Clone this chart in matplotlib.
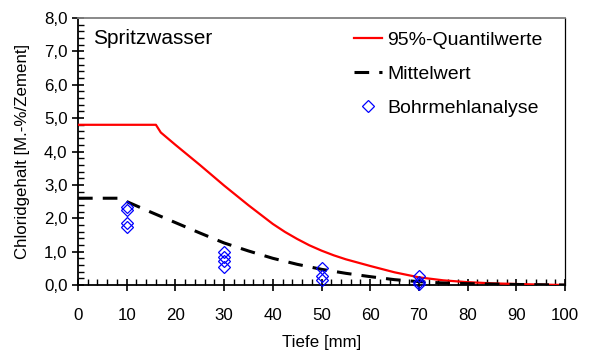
import matplotlib
matplotlib.use("Agg")
import matplotlib.pyplot as plt
from matplotlib.ticker import MultipleLocator, FuncFormatter

plt.rcParams['font.family'] = ['Liberation Sans', 'DejaVu Sans']

# 95%-Quantilwerte curve
q95_x = [0, 16, 17, 20, 25, 30, 35, 40, 42.5, 45, 47.5, 50, 52.5, 55, 57.5, 60, 65, 70, 75, 80, 85, 90, 95, 100]
q95_y = [4.8, 4.8, 4.57, 4.2, 3.6, 2.98, 2.39, 1.83, 1.59, 1.38, 1.19, 1.03, 0.89, 0.77, 0.67, 0.57, 0.38, 0.23, 0.14, 0.085, 0.05, 0.03, 0.012, 0.0]

# Mittelwert curve
mean_x = [0, 9, 10, 15, 20, 25, 30, 35, 40, 45, 50, 55, 60, 65, 70, 75, 80, 90, 100]
mean_y = [2.6, 2.6, 2.5, 2.18, 1.87, 1.56, 1.26, 1.02, 0.8, 0.62, 0.47, 0.35, 0.25, 0.16, 0.1, 0.06, 0.04, 0.015, 0.0]

# Bohrmehlanalyse measurements
bm_x = [10, 10, 10, 10, 30, 30, 30, 30, 50, 50, 50, 70, 70, 70]
bm_y = [2.35, 2.25, 1.85, 1.75, 0.99, 0.85, 0.72, 0.53, 0.50, 0.28, 0.15, 0.26, 0.08, 0.02]

fig = plt.figure(figsize=(5.9, 3.52), dpi=100)
ax = fig.add_axes([78/590, 1 - 285/352, (565-78)/590, (285-18)/352])

ax.plot(q95_x, q95_y, color='#ff0000', lw=1.6, label='95%-Quantilwerte', zorder=3)
ax.plot(mean_x, mean_y, color='black', lw=2.2, dashes=(4.8, 3.3), label='Mittelwert', zorder=3)
ax.plot(bm_x, bm_y, linestyle='none', marker='D', markersize=6, markerfacecolor='none',
        markeredgecolor='#0000ff', markeredgewidth=0.9, label='Bohrmehlanalyse', zorder=4,
        clip_on=False)

ax.set_xlim(0, 100)
ax.set_ylim(0, 8)
ax.xaxis.set_major_locator(MultipleLocator(10))
ax.xaxis.set_minor_locator(MultipleLocator(2))
ax.yaxis.set_major_locator(MultipleLocator(1))
ax.yaxis.set_minor_locator(MultipleLocator(0.2))
ax.yaxis.set_major_formatter(FuncFormatter(lambda v, p: f"{v:.1f}".replace('.', ',')))

ax.tick_params(which='major', direction='inout', length=9, width=1.2, labelsize=12.2,
               top=False, right=False)
ax.tick_params(axis='x', which='major', pad=12)
ax.tick_params(axis='y', which='major', pad=3)
ax.tick_params(which='minor', direction='in', length=4, width=1.0, top=False, right=False)

for s in ['left', 'bottom']:
    ax.spines[s].set_linewidth(1.3)
    ax.spines[s].set_color('black')
ax.spines['top'].set_color('#808080')
ax.spines['top'].set_linewidth(1.3)
ax.spines['right'].set_color('black')
ax.spines['right'].set_linewidth(0.9)

ax.set_xlabel('Tiefe [mm]', fontsize=12.2, labelpad=9)
ax.set_ylabel('Chloridgehalt [M.-%/Zement]', fontsize=12.2, labelpad=10)

ax.text(0.03, 0.925, 'Spritzwasser', transform=ax.transAxes, fontsize=15,
        ha='left', va='center')

leg = ax.legend(loc='upper right', bbox_to_anchor=(1 - 9/487, 1.0), frameon=False,
                fontsize=14, handlelength=1.4, handletextpad=0.28, labelspacing=0.83,
                borderaxespad=0.3)

fig.savefig('out.png', dpi=100)
